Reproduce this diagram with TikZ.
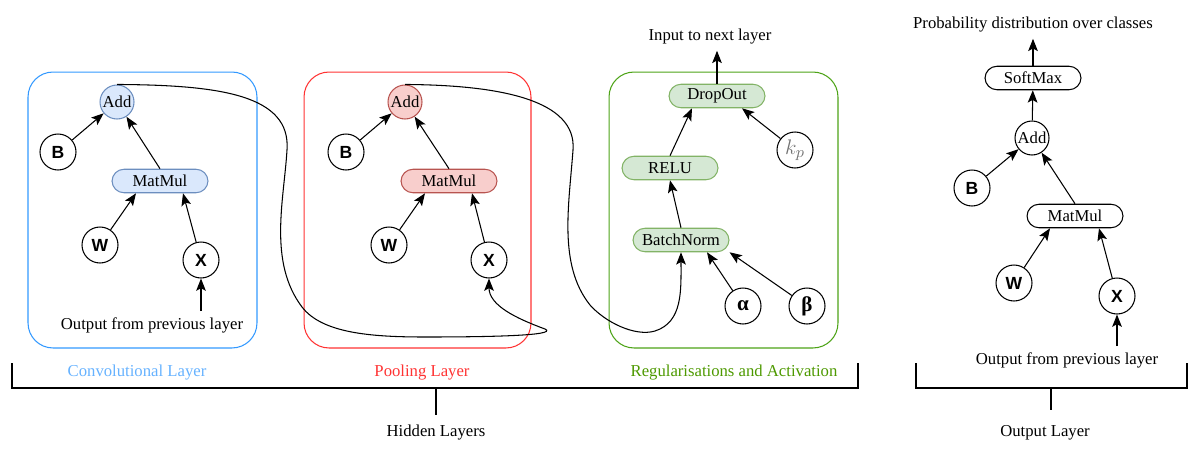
\documentclass[tikz,border=0pt]{standalone}
\usepackage{amsmath}
\usepackage{fontspec}
\setmainfont{Liberation Serif}
\newfontfamily\helv{Liberation Sans}
\usepackage{xcolor}
\usetikzlibrary{positioning, arrows.meta}

\definecolor{convline}{RGB}{51,153,255}
\definecolor{convtext}{RGB}{102,178,255}
\definecolor{convfill}{RGB}{218,232,252}
\definecolor{convdraw}{RGB}{108,142,191}
\definecolor{poolline}{RGB}{255,51,51}
\definecolor{poolfill}{RGB}{248,206,204}
\definecolor{pooldraw}{RGB}{184,84,80}
\definecolor{regline}{RGB}{77,163,23}
\definecolor{regtext}{RGB}{77,153,0}
\definecolor{regfill}{RGB}{213,232,212}
\definecolor{regdraw}{RGB}{130,179,102}

\begin{document}
\begin{tikzpicture}[
    x=0.02cm, y=-0.02cm,
    font=\fontsize{9.5}{11}\selectfont,
    layerbox/.style={rectangle, rounded corners=0.5cm, line width=0.6pt},
    opbox/.style={rectangle, draw, rounded corners=0.24cm, minimum width=1.92cm, minimum height=0.47cm, inner sep=1pt, line width=0.6pt},
    opcirc/.style={circle, draw, minimum size=0.68cm, inner sep=0pt, line width=0.6pt},
    varcirc/.style={circle, draw, minimum size=0.72cm, inner sep=0pt, line width=0.6pt, font=\fontsize{10}{11}\helv\bfseries},
    greekcirc/.style={circle, draw, minimum size=0.72cm, inner sep=0pt, line width=0.6pt, font=\fontsize{12}{13}\selectfont\bfseries},
    arrow/.style={-{Stealth[length=7pt, width=5.5pt, inset=1.5pt]}, line width=0.6pt},
    bracket/.style={line width=1.2pt}
]
\useasboundingbox (0,0) rectangle (1199,463);

% Layer boxes
\node[layerbox, draw=convline, minimum width=4.58cm, minimum height=5.52cm] (conv) at (142.5,210) {};
\node[layerbox, draw=poolline, minimum width=4.54cm, minimum height=5.52cm] (pool) at (417.5,210) {};
\node[layerbox, draw=regline, minimum width=4.58cm, minimum height=5.52cm] (reg) at (723.5,210) {};

% Convolutional layer
\node[opcirc, fill=convfill, draw=convdraw] (add1) at (117,102) {Add};
\node[varcirc] (b1) at (58,152) {B};
\node[opbox, fill=convfill, draw=convdraw] (mat1) at (160,181) {MatMul};
\node[varcirc] (w1) at (100,245) {W};
\node[varcirc] (x1) at (201,260) {X};
\node (in1) at (152,325) {Output from previous layer};

% Pooling layer
\node[opcirc, fill=poolfill, draw=pooldraw] (add2) at (405,102) {Add};
\node[varcirc] (b2) at (346,152) {B};
\node[opbox, fill=poolfill, draw=pooldraw] (mat2) at (449,181) {MatMul};
\node[varcirc] (w2) at (389,245) {W};
\node[varcirc] (x2) at (489,260) {X};

% Regularisation and activation
\node[opbox, fill=regfill, draw=regdraw] (drop) at (717,96) {DropOut};
\node[opbox, fill=regfill, draw=regdraw] (relu) at (670,168) {RELU};
\node[opbox, fill=regfill, draw=regdraw] (bn) at (681,240) {BatchNorm};
\node[varcirc, font=\fontsize{13}{14}\selectfont] (kp) at (795,150) {\textcolor{black!55}{$k_p$}};
\node[greekcirc] (alpha) at (743,306) {α};
\node[greekcirc] (beta) at (807,306) {β};
\node (next) at (710,37) {Input to next layer};

% Output layer
\node[opbox] (soft) at (1033,78) {SoftMax};
\node[opcirc] (add3) at (1032,138) {Add};
\node[varcirc] (b3) at (972,188) {B};
\node[opbox] (mat3) at (1075,216) {MatMul};
\node[varcirc] (w3) at (1014,283) {W};
\node[varcirc] (x3) at (1117,296) {X};
\node (in3) at (1067,360) {Output from previous layer};
\node (prob) at (1033,25) {Probability distribution over classes};

% Arrows
\draw[arrow] (b1) -- (add1);
\draw[arrow] (mat1.north) -- (add1);
\draw[arrow] (w1) -- (mat1.south west -| 136,0);
\draw[arrow] (x1) -- (mat1.south east -| 183,0);
\draw[arrow] (in1.north -| x1) -- (x1);

\draw[arrow] (b2) -- (add2);
\draw[arrow] (mat2.north) -- (add2);
\draw[arrow] (w2) -- (mat2.south west -| 425,0);
\draw[arrow] (x2) -- (mat2.south east -| 472,0);

\draw[arrow] (relu.north) -- (drop.south west -| 692,0);
\draw[arrow] (bn.north) -- (relu.south);
\draw[arrow] (kp) -- (drop.south east -| 742,0);
\draw[arrow] (alpha) -- (bn.south east -| 707,0);
\draw[arrow] (beta) -- (bn.south east);
\draw[arrow] (drop.north) -- (drop.north |- next.south);

\draw[arrow] (add3) -- (soft);
\draw[arrow] (soft) -- (soft.north |- prob.south);
\draw[arrow] (b3) -- (add3);
\draw[arrow] (mat3.north) -- (add3);
\draw[arrow] (w3) -- (mat3.south west -| 1050,0);
\draw[arrow] (x3) -- (mat3.south east -| 1099,0);
\draw[arrow] (in3.north -| x3) -- (x3);

% Layer to layer
\draw[arrow] (add1.north) .. controls (220,85) and (291,95) .. (287,150)
    .. controls (284,200) and (268,262) .. (302,307)
    .. controls (322,333) and (370,337) .. (425,337)
    .. controls (480,337) and (560,336) .. (545,329)
    .. controls (515,318) and (489,305) .. (x2.south);
\draw[arrow] (add2.north) .. controls (500,85) and (577,100) .. (573,150)
    .. controls (569,205) and (558,265) .. (590,305)
    .. controls (605,322) and (635,337) .. (655,331)
    .. controls (683,322) and (681,290) .. (bn.south);

% Brackets
\draw[bracket] (12,363) -- (12,388) -- (858,388) -- (858,363);
\draw[bracket] (436,388) -- (436,415);
\draw[bracket] (916,363) -- (916,388) -- (1187,388) -- (1187,363);
\draw[bracket] (1051,388) -- (1051,410);

% Labels
\node[text=convtext] (convlbl) at (137,373) {Convolutional Layer};
\node[text=poolline] (poollbl) at (422,373) {Pooling Layer};
\node[text=regtext] (reglbl) at (734,373) {Regularisations and Activation};
\node (hidden) at (436,433) {Hidden Layers};
\node (outlbl) at (1045,433) {Output Layer};

\end{tikzpicture}
\end{document}
